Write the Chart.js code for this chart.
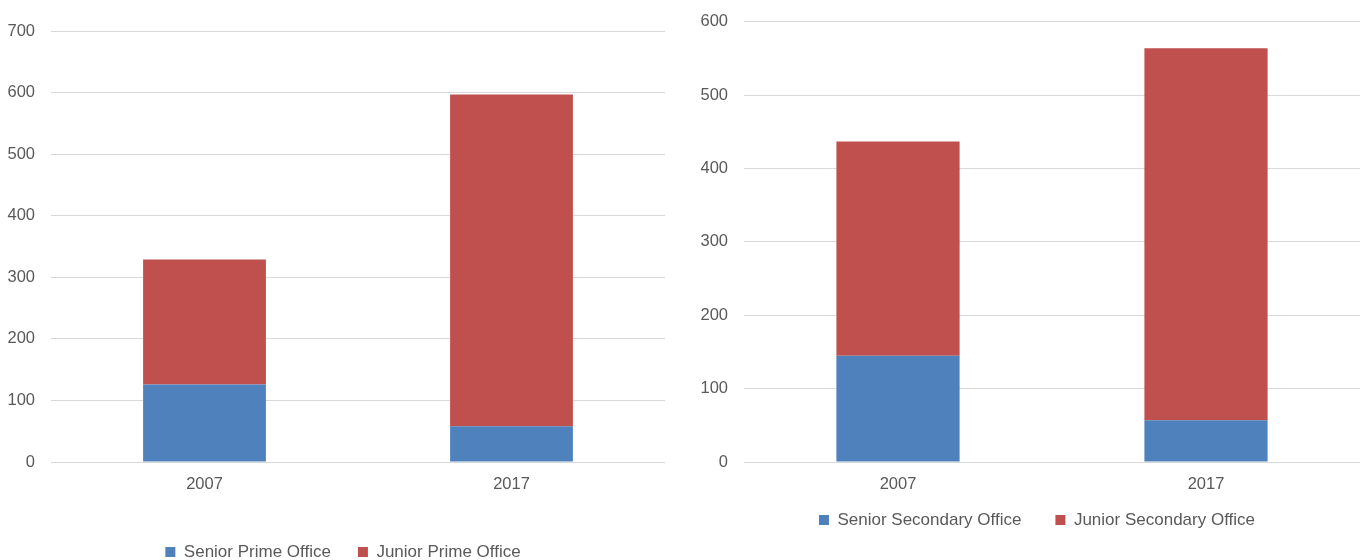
<!DOCTYPE html>
<html>
<head>
<meta charset="utf-8">
<script src="https://cdn.jsdelivr.net/npm/chart.js@4.4.0/dist/chart.umd.min.js"></script>
<style>
  html, body { margin: 0; padding: 0; background: #fff; overflow: hidden; width: 1368px; height: 560px; }
  .panel { position: absolute; width: 684px; }
  #primeBox { left: 0; top: 0; height: 560px; }
  #secondaryBox { left: 684px; top: -4px; height: 564px; }
</style>
</head>
<body>
<div class="panel" id="primeBox"><canvas id="prime"></canvas></div>
<div class="panel" id="secondaryBox"><canvas id="secondary"></canvas></div>
<script>
// Office stock by grade, 2007 vs 2017
const years = ['2007', '2017'];

const seniorPrime = [126, 58];
const juniorPrime = [203, 539];

const seniorSecondary = [145, 57];
const juniorSecondary = [292, 507];

const primeAxisMax = 700;
const secondaryAxisMax = 600;
const axisStep = 100;

const BLUE = '#4F81BD';
const RED = '#C0504D';
const TEXT = '#595959';
const GRID = '#D9D9D9';

Chart.defaults.font.family = '"Liberation Sans", Arial, sans-serif';
Chart.defaults.color = TEXT;

// Nudges the legend box after layout so it can sit off the default centre line.
const legendOffset = {
  id: 'legendOffset',
  afterLayout(chart, args, opts) {
    const lg = chart.legend;
    if (!lg) return;
    const dx = opts.dx || 0, dy = opts.dy || 0;
    lg.left += dx; lg.right += dx;
    lg.top += dy; lg.bottom += dy;
  }
};

function stackedChart(id, seniorLabel, seniorData, juniorLabel, juniorData, yMax, lay) {
  return new Chart(document.getElementById(id), {
    type: 'bar',
    plugins: [legendOffset],
    data: {
      labels: years,
      datasets: [
        { label: seniorLabel, data: seniorData, backgroundColor: BLUE, borderWidth: 0 },
        { label: juniorLabel, data: juniorData, backgroundColor: RED, borderWidth: 0 }
      ]
    },
    options: {
      responsive: true,
      maintainAspectRatio: false,
      animation: false,
      categoryPercentage: 1,
      barPercentage: 0.4,
      layout: { padding: { left: 0, right: lay.padR, top: lay.padT, bottom: 0 } },
      plugins: {
        tooltip: { enabled: false },
        legendOffset: { dx: lay.dx, dy: lay.dy },
        legend: {
          position: 'bottom',
          labels: {
            boxWidth: 10,
            boxHeight: 10,
            padding: lay.legendPad,
            color: TEXT,
            font: { size: 17 }
          }
        }
      },
      scales: {
        x: {
          stacked: true,
          grid: { display: false, drawTicks: false },
          border: { display: false },
          ticks: { padding: 13, color: TEXT, font: { size: 16.5 } },
          afterFit: (s) => { s.height = lay.xHeight; }
        },
        y: {
          stacked: true,
          min: 0,
          max: yMax,
          grid: { color: GRID, lineWidth: 1, drawTicks: false },
          border: { display: false },
          ticks: { stepSize: axisStep, padding: 16, color: TEXT, font: { size: 16.5 } },
          afterFit: (s) => { s.width = lay.yWidth; }
        }
      }
    }
  });
}

stackedChart('prime', 'Senior Prime Office', seniorPrime, 'Junior Prime Office', juniorPrime, primeAxisMax,
  { padR: 19, padT: 31, yWidth: 51, xHeight: 44, legendPad: 27, dx: 10.5, dy: 10.5 });

stackedChart('secondary', 'Senior Secondary Office', seniorSecondary, 'Junior Secondary Office', juniorSecondary, secondaryAxisMax,
  { padR: 8, padT: 24, yWidth: 60, xHeight: 37, legendPad: 34, dx: 15, dy: -21.5 });
</script>
</body>
</html>
